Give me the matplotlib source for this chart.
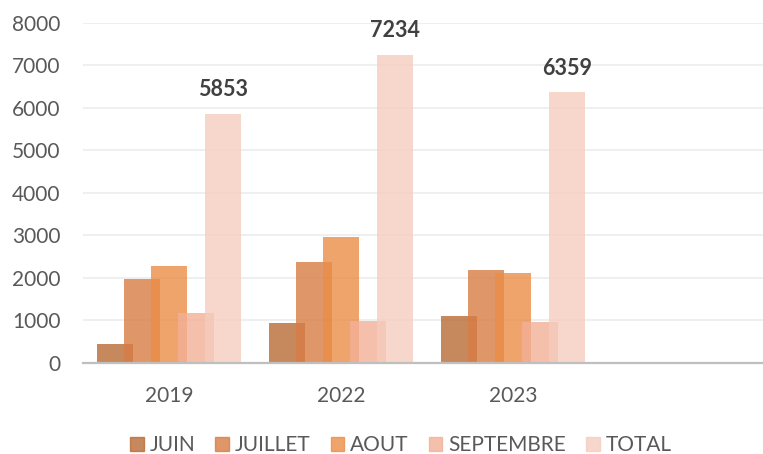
import matplotlib
matplotlib.use("Agg")
import matplotlib.pyplot as plt
import numpy as np

plt.rcParams['font.family'] = ['Lato', 'DejaVu Sans']

# Data
years = ['2019', '2022', '2023', '']
series = ['JUIN', 'JUILLET', 'AOUT', 'SEPTEMBRE', 'TOTAL']
juin = [450, 930, 1092, 0]
juillet = [1970, 2365, 2190, 0]
aout = [2265, 2958, 2112, 0]
septembre = [1168, 981, 965, 0]
total = [5853, 7234, 6359, 0]

values = [juin, juillet, aout, septembre, total]
colors = ['#B86B35', '#D87D45', '#EC8D47', '#F2B096', '#F6CCBF']

fig = plt.figure(figsize=(7.63, 4.54), dpi=100)
ax = fig.add_axes([83 / 763, 1 - 362.7 / 454, 688 / 763, 340 / 454])

x = np.arange(len(years))
width = 0.21
step = 0.157
bars = []
for i, (name, vals, col) in enumerate(zip(series, values, colors)):
    b = ax.bar(x + (i - 2) * step, vals, width, color=col, alpha=0.8,
               label=name, zorder=2 + i)
    bars.append(b)

# labels on the total bars
for rect, v in zip(bars[-1], total):
    if v:
        ax.annotate(str(v), (rect.get_x() + rect.get_width() / 2, v),
                    xytext=(0, 10), textcoords='offset points',
                    ha='center', va='bottom', fontsize=15.5,
                    fontweight='bold', color='#404040')

ax.set_xlim(-0.5, 3.5)
ax.set_ylim(0, 8000)
ax.set_yticks(range(0, 8001, 1000))
ax.set_xticks(x)
ax.set_xticklabels(years)
ax.tick_params(axis='both', length=0, labelsize=15, labelcolor='#595959')
ax.tick_params(axis='y', pad=16)
ax.tick_params(axis='x', pad=17)

ax.grid(axis='y', color='#eeeeee', linewidth=1.3, zorder=0)
ax.set_axisbelow(True)
for s in ['top', 'right', 'left']:
    ax.spines[s].set_visible(False)
ax.spines['bottom'].set_color('#bfbfbf')
ax.spines['bottom'].set_linewidth(1.6)
ax.spines['bottom'].set_zorder(10)

handles = [plt.Rectangle((0, 0), 1, 1, color=c, alpha=0.8) for c in colors]
fig.legend(handles, series, loc='center', bbox_to_anchor=(401 / 763, 1 - 445 / 454),
           ncol=5, frameon=False, fontsize=15, handlelength=0.65, handleheight=0.65,
           handletextpad=0.3, columnspacing=0.95, labelcolor='#595959')

fig.savefig('out.png', dpi=100)
